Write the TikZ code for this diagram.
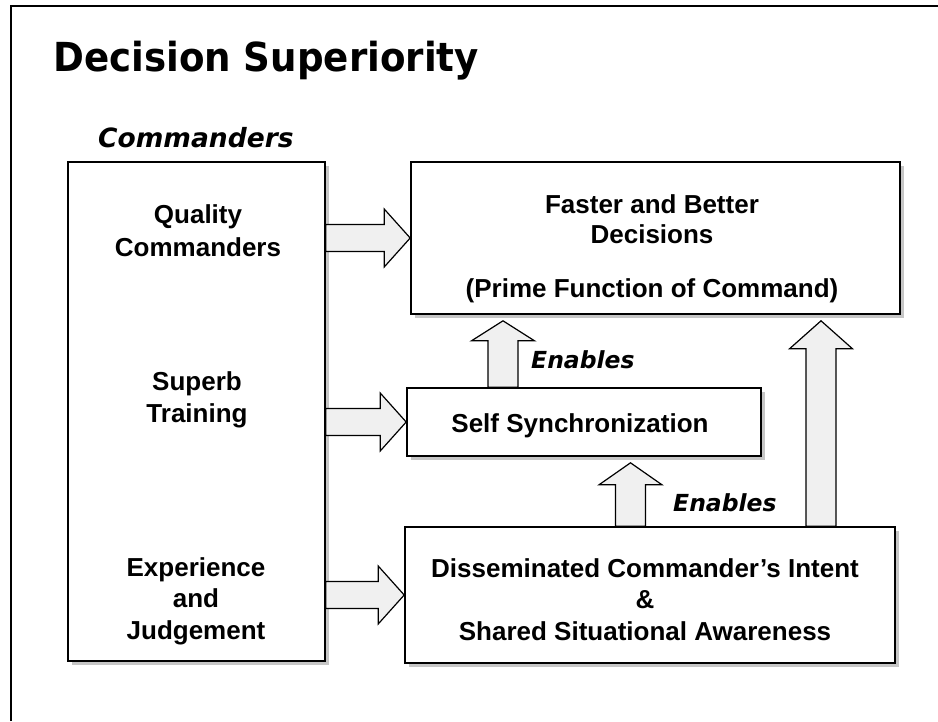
\documentclass[tikz,border=0pt]{standalone}
\usepackage{fontspec}
\setmainfont{Liberation Sans}
\newfontfamily\headfont{DejaVu Sans}[FakeStretch=0.93]
\newfontfamily\oblfont{DejaVu Sans}
\usetikzlibrary{calc,shadows}
\tikzset{
	box/.style={draw, fill=white, line width=1.6pt, inner sep=0pt,
		drop shadow={shadow xshift=4pt, shadow yshift=-4pt, fill=gray!45, opacity=1}},
	txt/.style={font=\fontsize{26}{31.5}\selectfont\bfseries, align=center, inner sep=0pt, anchor=base},
	lbl/.style={font=\oblfont\fontsize{23.5}{28}\selectfont\bfseries\itshape, inner sep=0pt, anchor=base west},
	blk/.style={draw, fill=gray!12, line width=1.2pt, line join=miter},
}
% block arrow to the right: from #1 to the tip #2
\newcommand\blkright[2]{%
	\draw[blk] let \p1=(#1), \p2=(#2) in
		(\x1,\y2+13.5pt) -- (\x2-26pt,\y2+13.5pt) -- (\x2-26pt,\y2+29pt) -- (\x2,\y2)
		-- (\x2-26pt,\y2-29pt) -- (\x2-26pt,\y2-13.5pt) -- (\x1,\y2-13.5pt) -- cycle;}
% block arrow upwards: from #1 to just below #2, head length #3
\newcommand\blkup[3]{%
	\draw[blk] let \p1=(#1), \p2=(#2) in
		(\x2-15pt,\y1) -- (\x2-15pt,\y2-6pt-#3) -- (\x2-31.5pt,\y2-6pt-#3) -- (\x2,\y2-6pt)
		-- (\x2+31.5pt,\y2-6pt-#3) -- (\x2+15pt,\y2-6pt-#3) -- (\x2+15pt,\y1) -- cycle;}

\begin{document}
\begin{tikzpicture}[x=1pt, y=-1pt]
	\useasboundingbox (0,0) rectangle (938,721);
	\draw[line width=1.5pt] (11,721) -- (11,6) -- (938,6);

	\node[font=\headfont\fontsize{40}{48}\selectfont\bfseries, anchor=base west, inner sep=0pt]
		(title) at (53,71) {Decision Superiority};
	\node[lbl, font=\oblfont\fontsize{26.5}{30}\selectfont\bfseries\itshape] (cmd) at (98,147) {Commanders};

	\node[box, minimum width=257pt, minimum height=499pt] (L) at (196.5,411.5) {};
	\node[box, minimum width=489pt, minimum height=152pt] (F) at (655.5,238) {};
	\node[box, minimum width=354pt, minimum height=68pt] (S) at (584,422) {};
	\node[box, minimum width=490pt, minimum height=136pt] (D) at (650,595) {};

	% base anchor sits on the last line
	\node[txt, font=\fontsize{26}{33}\selectfont\bfseries] (tq) at (198,256) {Quality\\Commanders};
	\node[txt] (ts) at (197,422) {Superb\\Training};
	\node[txt] (te) at (196,639) {Experience\\and\\Judgement};
	\node[txt, font=\fontsize{26}{30}\selectfont\bfseries] (tf) at (652,297)
		{Faster and Better\\Decisions\\[24pt](Prime Function of Command)};
	\node[txt] (tss) at (580,432) {Self Synchronization};
	\node[txt] (td) at (645,640) {Disseminated Commander’s Intent\\\&\\Shared Situational Awareness};

	\blkright{L.east}{F.west}
	\blkright{L.east}{S.west}
	\blkright{L.east}{D.west}

	\coordinate (e1) at (503,0);
	\coordinate (e2) at (630.5,0);
	\coordinate (e3) at (821,0);
	\blkup{S.north -| e1}{F.south -| e1}{20pt}
	\blkup{D.north -| e2}{S.south -| e2}{22pt}
	\blkup{D.north -| e3}{F.south -| e3}{28pt}

	\node[lbl] (en1) at (531,368) {Enables};
	\node[lbl] (en2) at (673,511) {Enables};
\end{tikzpicture}
\end{document}
